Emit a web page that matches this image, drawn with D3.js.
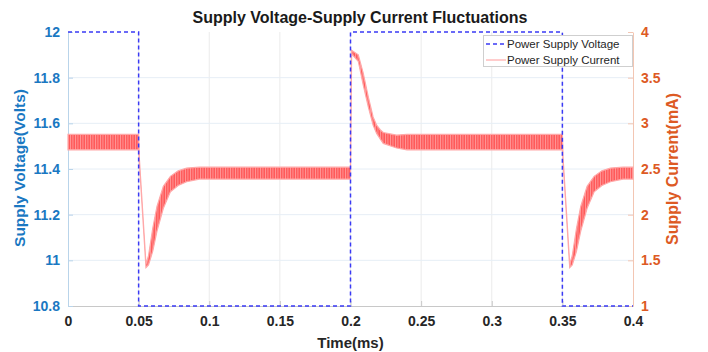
<!DOCTYPE html>
<html>
<head>
<meta charset="utf-8">
<script src="https://cdn.jsdelivr.net/npm/d3@7"></script>
<style>
  html, body { margin: 0; padding: 0; background: #fff; }
  svg { display: block; font-family: "Liberation Sans", Arial, sans-serif; }
</style>
</head>
<body>
<svg id="chart" width="708" height="352"></svg>
<script>
// ---- Data ----
const xTicks = [0, 0.05, 0.1, 0.15, 0.2, 0.25, 0.3, 0.35, 0.4];
const leftTicks = [10.8, 11, 11.2, 11.4, 11.6, 11.8, 12];
const rightTicks = [1, 1.5, 2, 2.5, 3, 3.5, 4];

// Power supply voltage (step changes), time in ms, volts
const voltTime   = [0, 0.05, 0.2, 0.35, 0.4];
const voltValues = [12, 10.8, 12, 10.8, 10.8];

// Power supply current: time (ms), upper and lower envelope of the ripple (mA)
const curTime  = [0, 0.05, 0.0505, 0.0552, 0.057, 0.060, 0.063, 0.0675, 0.0725, 0.078, 0.084, 0.093,
                  0.2, 0.2008, 0.2055, 0.209, 0.2126, 0.216, 0.2185, 0.221, 0.2232, 0.2327, 0.24,
                  0.35, 0.3505, 0.3552, 0.357, 0.360, 0.363, 0.3675, 0.3725, 0.378, 0.384, 0.393, 0.4];
const curUpper = [2.88, 2.88, 2.62, 1.46, 1.55, 1.85, 2.09, 2.31, 2.42, 2.48, 2.51, 2.52,
                  2.52, 3.80, 3.75, 3.55, 3.29, 3.07, 2.98, 2.93, 2.90, 2.87, 2.88,
                  2.88, 2.62, 1.46, 1.55, 1.85, 2.09, 2.31, 2.42, 2.48, 2.51, 2.52, 2.52];
const curLower = [2.71, 2.71, 2.58, 1.42, 1.45, 1.60, 1.82, 2.07, 2.25, 2.32, 2.36, 2.39,
                  2.39, 3.76, 3.68, 3.42, 3.18, 2.98, 2.89, 2.83, 2.78, 2.73, 2.71,
                  2.71, 2.58, 1.42, 1.45, 1.60, 1.82, 2.07, 2.25, 2.32, 2.36, 2.39, 2.39];

const seriesNames = ["Power Supply Voltage", "Power Supply Current"];

// ---- Layout ----
const X0 = 68, X1 = 633, YT = 32, YB = 306;
const blue = "#1a78c2", orange = "#dd5a24";

const svg = d3.select("#chart");
const x = d3.scaleLinear().domain([0, 0.4]).range([X0, X1]);
const yL = d3.scaleLinear().domain([10.8, 12]).range([YB, YT]);
const yR = d3.scaleLinear().domain([1, 4]).range([YB, YT]);

// pattern for ripple band
const defs = svg.append("defs");
const pat = defs.append("pattern").attr("id", "ripple")
  .attr("patternUnits", "userSpaceOnUse").attr("width", 2.5).attr("height", 10);
pat.append("rect").attr("width", 2.5).attr("height", 10).attr("fill", "#ff5a5a");
pat.append("rect").attr("width", 0.9).attr("height", 10).attr("fill", "#ff9a9a");

// grid
const grid = svg.append("g");
grid.selectAll(".vg").data(xTicks.slice(1, -1)).enter().append("line")
  .attr("x1", d => x(d)).attr("x2", d => x(d)).attr("y1", YT).attr("y2", YB)
  .attr("stroke", "#ebebeb").attr("stroke-width", 1);
grid.selectAll(".hg").data(leftTicks.slice(1, -1)).enter().append("line")
  .attr("x1", X0).attr("x2", X1).attr("y1", d => yL(d)).attr("y2", d => yL(d))
  .attr("stroke", "#e6eef6").attr("stroke-width", 1);

// axes
const axB = svg.append("g").attr("transform", `translate(0,${YB})`)
  .call(d3.axisBottom(x).tickValues(xTicks).tickFormat(d => d === 0 ? "0" : String(d)).tickSizeInner(-5).tickSizeOuter(0).tickPadding(10));
axB.select(".domain").attr("stroke", "#c8c8c8");
axB.selectAll(".tick line").attr("stroke", "#c8c8c8");
axB.selectAll("text").attr("fill", "#262626").attr("font-size", 14).attr("font-weight", "bold")
  .attr("font-family", "Liberation Sans, Arial, sans-serif");

const axL = svg.append("g").attr("transform", `translate(${X0},0)`)
  .call(d3.axisLeft(yL).tickValues(leftTicks).tickFormat(d => String(d)).tickSizeInner(-5).tickSizeOuter(0).tickPadding(8));
axL.select(".domain").attr("stroke", "#b9d4ea");
axL.selectAll(".tick line").attr("stroke", "#b9d4ea");
axL.selectAll("text").attr("fill", blue).attr("font-size", 14).attr("font-weight", "bold")
  .attr("font-family", "Liberation Sans, Arial, sans-serif");

const axR = svg.append("g").attr("transform", `translate(${X1},0)`)
  .call(d3.axisRight(yR).tickValues(rightTicks).tickFormat(d => String(d)).tickSizeInner(-5).tickSizeOuter(0).tickPadding(8));
axR.select(".domain").attr("stroke", "#f3c6b3");
axR.selectAll(".tick line").attr("stroke", "#f3c6b3");
axR.selectAll("text").attr("fill", orange).attr("font-size", 14).attr("font-weight", "bold")
  .attr("font-family", "Liberation Sans, Arial, sans-serif");

// current ripple band
const curData = curTime.map((t, i) => ({ t, u: curUpper[i], l: curLower[i] }));
const area = d3.area().x(d => x(d.t)).y0(d => yR(d.l)).y1(d => yR(d.u));
svg.append("path").datum(curData).attr("d", area)
  .attr("fill", "url(#ripple)").attr("stroke", "#ffa8a8").attr("stroke-width", 1.2);

// voltage
const voltData = voltTime.map((t, i) => ({ t, v: voltValues[i] }));
const vline = d3.line().x(d => x(d.t)).y(d => yL(d.v)).curve(d3.curveStepAfter);
svg.append("path").datum(voltData).attr("d", vline)
  .attr("fill", "none").attr("stroke", "#3a3af5").attr("stroke-width", 1.5)
  .attr("stroke-dasharray", "4,3");

// title and labels
svg.append("text").attr("x", 360).attr("y", 23).attr("text-anchor", "middle")
  .attr("font-size", 16).attr("font-weight", "bold").attr("fill", "#1a1a1a")
  .text("Supply Voltage-Supply Current Fluctuations");
svg.append("text").attr("x", (X0 + X1) / 2).attr("y", 348).attr("text-anchor", "middle")
  .attr("font-size", 15).attr("font-weight", "bold").attr("fill", "#262626").text("Time(ms)");
svg.append("text").attr("transform", `translate(25,${(YT + YB) / 2 - 1}) rotate(-90)`).attr("text-anchor", "middle")
  .attr("font-size", 15.5).attr("font-weight", "bold").attr("fill", blue).text("Supply Voltage(Volts)");
svg.append("text").attr("transform", `translate(678,${(YT + YB) / 2}) rotate(-90)`).attr("text-anchor", "middle")
  .attr("font-size", 16).attr("font-weight", "bold").attr("fill", orange).text("Supply Current(mA)");

// legend
const lg = svg.append("g");
lg.append("rect").attr("x", 483.5).attr("y", 35.5).attr("width", 149).attr("height", 31)
  .attr("fill", "#fff").attr("stroke", "#cfcfcf");
lg.append("line").attr("x1", 486).attr("x2", 506).attr("y1", 44).attr("y2", 44)
  .attr("stroke", "#3a3af5").attr("stroke-width", 1.5).attr("stroke-dasharray", "4,3");
lg.append("line").attr("x1", 486).attr("x2", 506).attr("y1", 60).attr("y2", 60)
  .attr("stroke", "#ff9a9a").attr("stroke-width", 1);
lg.selectAll(".lt").data(seriesNames).enter().append("text")
  .attr("x", 507).attr("y", (d, i) => 48 + i * 16)
  .attr("font-size", 11.5).attr("fill", "#262626").text(d => d);
</script>
</body>
</html>
